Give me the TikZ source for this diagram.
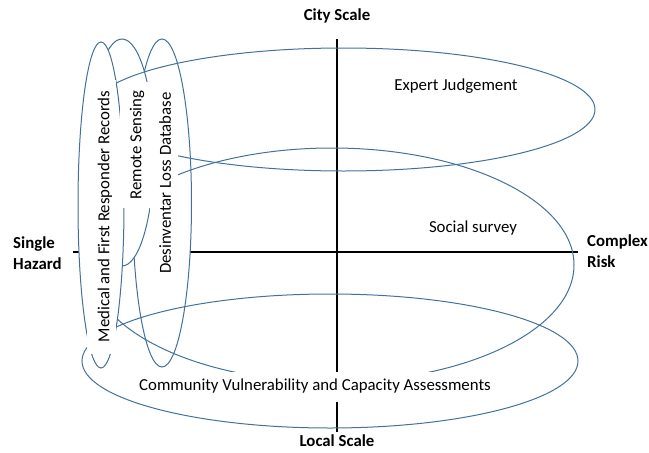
\documentclass[tikz,border=0pt]{standalone}
\usepackage{fontspec}
\setmainfont{Carlito}
\usetikzlibrary{shapes.geometric}
\definecolor{ellblue}{RGB}{65,113,156}
\begin{document}
\begin{tikzpicture}[x=1pt,y=-1pt,
  oval/.style={ellipse, draw=ellblue, line width=1pt, inner sep=0pt, outer sep=0pt},
  axisline/.style={line width=2pt, black},
  lbl/.style={font=\fontsize{16.8}{20}\selectfont, inner sep=0pt},
  blbl/.style={font=\fontsize{16.8}{21}\selectfont\bfseries, inner sep=0pt, align=left},
  mask/.style={fill=white}]
\useasboundingbox (0,0) rectangle (649,453);
% axes
\coordinate (hl) at (73,252); \coordinate (hr) at (578,252);
\coordinate (vt) at (337,39);  \coordinate (vb) at (337,432);
\draw[axisline] (hl) -- (hr);
\draw[axisline] (vt) -- (vb);
% ellipses (back to front)
\node[oval, fill=white, minimum width=59pt, minimum height=328pt] (D) at (162,203) {};
\node[oval, fill=white, minimum width=64pt, minimum height=227pt] (R) at (122,152.5) {};
\node[oval, minimum width=503pt, minimum height=123pt] (E) at (343.5,109.5) {};
\node[oval, minimum width=484pt, minimum height=234pt] (S) at (332,265) {};
\node[oval, minimum width=496pt, minimum height=134pt] (C) at (330,361) {};
\node[oval, fill=white, minimum width=46pt, minimum height=326pt] (M) at (101,205) {};
% white backgrounds of the texts
\fill[mask] (87,80) rectangle (116,354);
\fill[mask] (120,82) rectangle (150,208);
\fill[mask] (150,80) rectangle (178,285);
\fill[mask] (140,372) rectangle (490,402);
% texts
\node[lbl, rotate=90] (mt) at (105,216.5) {Medical and First Responder Records};
\node[lbl, rotate=90] (rt) at (137,145) {Remote Sensing};
\node[lbl, rotate=90] (dt) at (165,183) {Desinventar Loss Database};
\node[lbl] (ct) at (315,386) {Community Vulnerability and Capacity Assessments};
\node[lbl] (et) at (456,86) {Expert Judgement};
\node[lbl] (st) at (473,228) {Social survey};
\node[blbl] (city) at (337,16) {City Scale};
\node[blbl] (local) at (337,441) {Local Scale};
\node[blbl, anchor=west] (single) at (13,253) {Single\\Hazard};
\node[blbl, anchor=west] (complex) at (587,251) {Complex\\Risk};
\end{tikzpicture}
\end{document}
